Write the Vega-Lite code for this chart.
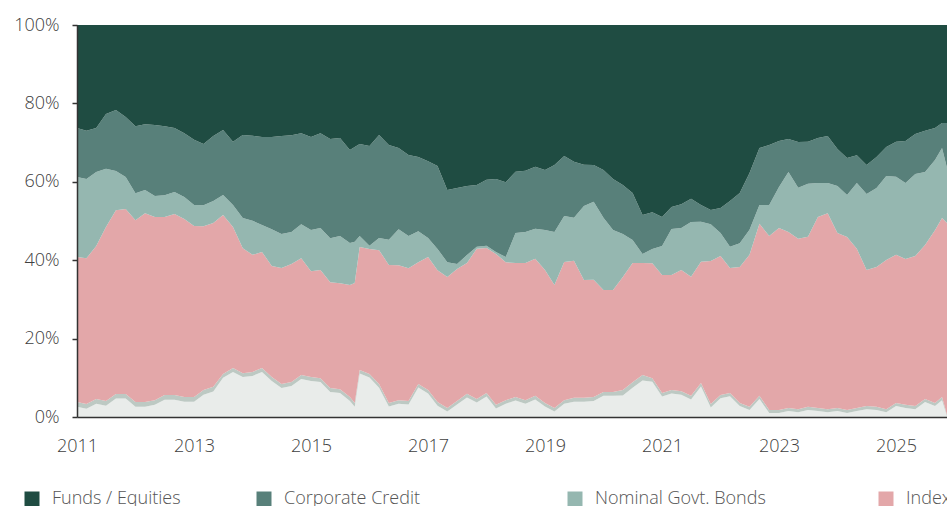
{
  "$schema": "https://vega.github.io/schema/vega-lite/v6.json",
  "width": 870,
  "height": 392,
  "autosize": {"type": "none"},
  "padding": {"left": 77, "top": 25, "right": 0, "bottom": 89},
  "background": "white",
  "config": {"view": {"stroke": null}, "font": "Open Sans"},
  "data": {"values": [
    {"date":"2011-01-01","c1":2.6,"c2":1.2,"c3":37.0,"c4":20.4,"c5":12.5,"c6":26.3},
    {"date":"2011-03-01","c1":2.1,"c2":1.2,"c3":37.2,"c4":20.2,"c5":12.3,"c6":27.0},
    {"date":"2011-05-01","c1":3.4,"c2":1.2,"c3":39.0,"c4":18.9,"c5":11.2,"c6":26.3},
    {"date":"2011-07-01","c1":2.9,"c2":1.2,"c3":44.4,"c4":14.8,"c5":14.0,"c6":22.7},
    {"date":"2011-09-01","c1":4.7,"c2":1.2,"c3":46.9,"c4":10.0,"c5":15.6,"c6":21.7},
    {"date":"2011-11-01","c1":4.7,"c2":1.2,"c3":47.2,"c4":8.2,"c5":15.3,"c6":23.5},
    {"date":"2012-01-01","c1":2.6,"c2":1.2,"c3":46.4,"c4":6.9,"c5":17.1,"c6":25.8},
    {"date":"2012-03-01","c1":2.6,"c2":1.2,"c3":48.2,"c4":5.9,"c5":16.8,"c6":25.3},
    {"date":"2012-05-01","c1":3.1,"c2":1.2,"c3":46.7,"c4":5.4,"c5":18.1,"c6":25.5},
    {"date":"2012-07-01","c1":4.4,"c2":1.2,"c3":45.4,"c4":5.6,"c5":17.6,"c6":25.8},
    {"date":"2012-09-01","c1":4.4,"c2":1.2,"c3":46.2,"c4":5.6,"c5":16.3,"c6":26.3},
    {"date":"2012-11-01","c1":3.9,"c2":1.2,"c3":45.4,"c4":5.6,"c5":16.3,"c6":27.6},
    {"date":"2013-01-01","c1":3.9,"c2":1.2,"c3":43.6,"c4":5.4,"c5":16.6,"c6":29.3},
    {"date":"2013-03-01","c1":5.7,"c2":1.2,"c3":41.8,"c4":5.4,"c5":15.6,"c6":30.4},
    {"date":"2013-05-01","c1":6.5,"c2":1.2,"c3":41.8,"c4":5.6,"c5":16.6,"c6":28.3},
    {"date":"2013-07-01","c1":10.0,"c2":1.0,"c3":40.6,"c4":5.1,"c5":16.6,"c6":26.8},
    {"date":"2013-09-01","c1":11.5,"c2":1.0,"c3":36.0,"c4":5.6,"c5":16.1,"c6":29.8},
    {"date":"2013-11-01","c1":10.2,"c2":1.0,"c3":31.9,"c4":7.7,"c5":21.2,"c6":28.1},
    {"date":"2014-01-01","c1":10.5,"c2":1.0,"c3":29.9,"c4":8.7,"c5":21.7,"c6":28.3},
    {"date":"2014-03-01","c1":11.5,"c2":1.0,"c3":29.6,"c4":6.9,"c5":22.4,"c6":28.6},
    {"date":"2014-05-01","c1":9.2,"c2":1.0,"c3":28.3,"c4":9.4,"c5":23.5,"c6":28.6},
    {"date":"2014-07-01","c1":7.4,"c2":1.0,"c3":29.6,"c4":8.7,"c5":25.0,"c6":28.3},
    {"date":"2014-09-01","c1":7.9,"c2":1.0,"c3":30.1,"c4":8.2,"c5":24.7,"c6":28.1},
    {"date":"2014-11-01","c1":9.7,"c2":1.0,"c3":29.8,"c4":8.7,"c5":23.2,"c6":27.6},
    {"date":"2015-01-01","c1":9.2,"c2":1.0,"c3":27.0,"c4":10.5,"c5":23.7,"c6":28.6},
    {"date":"2015-03-01","c1":8.9,"c2":1.0,"c3":27.6,"c4":10.7,"c5":24.2,"c6":27.6},
    {"date":"2015-05-01","c1":6.4,"c2":1.0,"c3":27.0,"c4":11.2,"c5":25.3,"c6":29.1},
    {"date":"2015-07-01","c1":6.1,"c2":1.0,"c3":27.0,"c4":12.0,"c5":25.0,"c6":28.8},
    {"date":"2015-09-01","c1":4.1,"c2":1.0,"c3":28.6,"c4":10.7,"c5":23.7,"c6":31.9},
    {"date":"2015-10-01","c1":2.6,"c2":1.0,"c3":30.6,"c4":10.5,"c5":24.2,"c6":31.1},
    {"date":"2015-11-01","c1":11.1,"c2":0.9,"c3":31.4,"c4":2.8,"c5":23.5,"c6":30.4},
    {"date":"2016-01-01","c1":10.1,"c2":0.9,"c3":31.9,"c4":0.8,"c5":25.5,"c6":30.9},
    {"date":"2016-03-01","c1":7.5,"c2":0.9,"c3":34.2,"c4":3.1,"c5":26.3,"c6":28.1},
    {"date":"2016-05-01","c1":2.7,"c2":0.9,"c3":35.2,"c4":6.4,"c5":24.2,"c6":30.6},
    {"date":"2016-07-01","c1":3.4,"c2":0.9,"c3":34.4,"c4":9.2,"c5":20.7,"c6":31.4},
    {"date":"2016-09-01","c1":3.2,"c2":0.9,"c3":33.9,"c4":8.2,"c5":20.7,"c6":33.2},
    {"date":"2016-11-01","c1":7.5,"c2":0.9,"c3":31.1,"c4":7.9,"c5":18.9,"c6":33.7},
    {"date":"2017-01-01","c1":6.0,"c2":0.9,"c3":33.9,"c4":4.8,"c5":19.6,"c6":34.7},
    {"date":"2017-03-01","c1":2.9,"c2":0.9,"c3":33.7,"c4":5.4,"c5":21.2,"c6":36.0},
    {"date":"2017-05-01","c1":1.4,"c2":0.9,"c3":33.4,"c4":3.8,"c5":18.4,"c6":42.1},
    {"date":"2017-07-01","c1":3.2,"c2":0.9,"c3":33.7,"c4":1.3,"c5":19.4,"c6":41.6},
    {"date":"2017-09-01","c1":5.0,"c2":0.9,"c3":33.4,"c4":2.0,"c5":17.6,"c6":41.1},
    {"date":"2017-11-01","c1":3.7,"c2":0.9,"c3":38.3,"c4":0.5,"c5":15.8,"c6":40.8},
    {"date":"2018-01-01","c1":5.2,"c2":0.9,"c3":37.0,"c4":0.6,"c5":16.8,"c6":39.5},
    {"date":"2018-03-01","c1":2.2,"c2":0.9,"c3":38.5,"c4":0.5,"c5":18.6,"c6":39.3},
    {"date":"2018-05-01","c1":3.4,"c2":0.9,"c3":35.2,"c4":1.3,"c5":19.1,"c6":40.1},
    {"date":"2018-07-01","c1":4.2,"c2":0.9,"c3":34.2,"c4":7.7,"c5":15.6,"c6":37.5},
    {"date":"2018-09-01","c1":3.4,"c2":0.9,"c3":35.0,"c4":7.9,"c5":15.6,"c6":37.2},
    {"date":"2018-11-01","c1":4.5,"c2":0.9,"c3":35.0,"c4":7.7,"c5":15.8,"c6":36.2},
    {"date":"2019-01-01","c1":2.7,"c2":0.9,"c3":33.9,"c4":10.2,"c5":15.3,"c6":37.0},
    {"date":"2019-03-01","c1":1.4,"c2":0.9,"c3":31.4,"c4":13.5,"c5":17.1,"c6":35.7},
    {"date":"2019-05-01","c1":3.4,"c2":0.9,"c3":35.2,"c4":11.7,"c5":15.3,"c6":33.4},
    {"date":"2019-07-01","c1":3.9,"c2":1.0,"c3":35.0,"c4":11.0,"c5":14.3,"c6":34.9},
    {"date":"2019-09-01","c1":3.9,"c2":1.0,"c3":30.1,"c4":18.9,"c5":10.5,"c6":35.7},
    {"date":"2019-11-01","c1":4.1,"c2":1.0,"c3":29.9,"c4":19.9,"c5":9.4,"c6":35.7},
    {"date":"2020-01-01","c1":5.4,"c2":1.0,"c3":26.0,"c4":18.4,"c5":12.2,"c6":37.0},
    {"date":"2020-03-01","c1":5.4,"c2":1.0,"c3":26.0,"c4":15.3,"c5":13.0,"c6":39.3},
    {"date":"2020-05-01","c1":5.5,"c2":1.4,"c3":28.8,"c4":11.0,"c5":12.5,"c6":40.8},
    {"date":"2020-07-01","c1":7.5,"c2":1.4,"c3":30.4,"c4":5.9,"c5":12.0,"c6":42.9},
    {"date":"2020-09-01","c1":9.3,"c2":1.4,"c3":28.6,"c4":2.3,"c5":10.0,"c6":48.5},
    {"date":"2020-11-01","c1":9.0,"c2":0.9,"c3":29.3,"c4":3.6,"c5":9.4,"c6":47.7},
    {"date":"2021-01-01","c1":5.2,"c2":0.9,"c3":30.1,"c4":7.4,"c5":7.4,"c6":49.0},
    {"date":"2021-03-01","c1":6.0,"c2":0.9,"c3":29.3,"c4":11.7,"c5":5.6,"c6":46.4},
    {"date":"2021-05-01","c1":5.7,"c2":0.9,"c3":30.9,"c4":10.7,"c5":6.1,"c6":45.7},
    {"date":"2021-07-01","c1":4.5,"c2":0.9,"c3":30.4,"c4":14.0,"c5":5.9,"c6":44.4},
    {"date":"2021-09-01","c1":7.8,"c2":0.9,"c3":30.9,"c4":10.2,"c5":4.3,"c6":45.9},
    {"date":"2021-11-01","c1":2.4,"c2":0.9,"c3":36.5,"c4":9.4,"c5":3.6,"c6":47.2},
    {"date":"2022-01-01","c1":4.8,"c2":0.8,"c3":35.5,"c4":5.9,"c5":6.4,"c6":46.7},
    {"date":"2022-03-01","c1":5.3,"c2":0.8,"c3":31.9,"c4":5.4,"c5":11.7,"c6":44.9},
    {"date":"2022-05-01","c1":2.8,"c2":0.8,"c3":34.7,"c4":6.1,"c5":12.8,"c6":42.9},
    {"date":"2022-07-01","c1":1.8,"c2":0.8,"c3":38.8,"c4":6.4,"c5":14.5,"c6":37.8},
    {"date":"2022-09-01","c1":4.6,"c2":0.8,"c3":43.9,"c4":4.8,"c5":14.5,"c6":31.4},
    {"date":"2022-11-01","c1":1.0,"c2":0.8,"c3":44.4,"c4":7.9,"c5":15.3,"c6":30.6},
    {"date":"2023-01-01","c1":1.0,"c2":0.8,"c3":46.4,"c4":10.5,"c5":11.7,"c6":29.6},
    {"date":"2023-03-01","c1":1.5,"c2":0.8,"c3":44.9,"c4":15.3,"c5":8.4,"c6":29.1},
    {"date":"2023-05-01","c1":1.2,"c2":0.8,"c3":43.4,"c4":13.0,"c5":11.7,"c6":29.8},
    {"date":"2023-07-01","c1":1.8,"c2":0.8,"c3":43.4,"c4":13.5,"c5":10.7,"c6":29.8},
    {"date":"2023-09-01","c1":1.5,"c2":0.8,"c3":48.7,"c4":8.7,"c5":11.5,"c6":28.8},
    {"date":"2023-11-01","c1":1.2,"c2":0.8,"c3":50.0,"c4":7.7,"c5":12.0,"c6":28.3},
    {"date":"2024-01-01","c1":1.5,"c2":0.8,"c3":44.6,"c4":12.0,"c5":9.4,"c6":31.6},
    {"date":"2024-03-01","c1":1.0,"c2":0.8,"c3":44.1,"c4":10.7,"c5":9.4,"c6":33.9},
    {"date":"2024-05-01","c1":1.5,"c2":0.8,"c3":40.6,"c4":16.8,"c5":7.1,"c6":33.2},
    {"date":"2024-07-01","c1":2.0,"c2":0.8,"c3":34.7,"c4":19.4,"c5":7.4,"c6":35.7},
    {"date":"2024-09-01","c1":1.8,"c2":0.8,"c3":35.7,"c4":20.2,"c5":7.9,"c6":33.7},
    {"date":"2024-11-01","c1":1.2,"c2":0.8,"c3":38.0,"c4":21.4,"c5":7.4,"c6":31.1},
    {"date":"2025-01-01","c1":2.8,"c2":0.8,"c3":37.8,"c4":19.9,"c5":8.9,"c6":29.8},
    {"date":"2025-03-01","c1":2.3,"c2":0.8,"c3":37.2,"c4":19.4,"c5":10.7,"c6":29.6},
    {"date":"2025-05-01","c1":2.0,"c2":0.8,"c3":38.3,"c4":20.9,"c5":10.2,"c6":27.8},
    {"date":"2025-07-01","c1":3.8,"c2":0.8,"c3":39.3,"c4":18.6,"c5":10.5,"c6":27.0},
    {"date":"2025-09-01","c1":2.8,"c2":0.8,"c3":44.1,"c4":17.9,"c5":8.2,"c6":26.3},
    {"date":"2025-10-15","c1":4.3,"c2":0.8,"c3":45.7,"c4":17.9,"c5":6.4,"c6":25.0},
    {"date":"2025-11-15","c1":0.2,"c2":0.3,"c3":49.0,"c4":14.0,"c5":11.5,"c6":25.0}
  ]},
  "transform": [{"fold": ["c1", "c2", "c3", "c4", "c5", "c6"], "as": ["series", "value"]}],
  "mark": {"type": "area", "interpolate": "linear"},
  "encoding": {
    "x": {
      "field": "date",
      "type": "temporal",
      "scale": {"type": "utc", "domain": [1293840000000, 1763164800000]},
      "axis": {
        "values": [1293840000000, 1356998400000, 1420070400000, 1483228800000, 1546300800000, 1609459200000, 1672531200000, 1735689600000],
        "format": "%Y",
        "formatType": "utc",
        "title": null,
        "grid": false,
        "ticks": false,
        "domainColor": "#333333",
        "domainWidth": 1.5,
        "labelPadding": 20,
        "labelFlush": false,
        "labelOverlap": false,
        "labelFont": "Open Sans",
        "labelFontWeight": 300,
        "labelFontSize": 18,
        "labelColor": "#404040",
        "zindex": 1
      }
    },
    "y": {
      "field": "value",
      "type": "quantitative",
      "stack": "normalize",
      "axis": {
        "values": [0, 0.2, 0.4, 0.6, 0.8, 1],
        "format": ".0%",
        "title": null,
        "grid": false,
        "domainColor": "#333333",
        "domainWidth": 1.5,
        "tickColor": "#333333",
        "tickWidth": 1.5,
        "tickSize": 5,
        "labelPadding": 13,
        "labelFlush": false,
        "labelOverlap": false,
        "labelFont": "Open Sans",
        "labelFontWeight": 300,
        "labelFontSize": 18,
        "labelColor": "#404040",
        "zindex": 1
      }
    },
    "color": {
      "field": "series",
      "type": "nominal",
      "scale": {
        "domain": ["c6", "c5", "c4", "c3", "c2", "c1", "c7"],
        "range": ["#1f4c42", "#58807a", "#95b7b0", "#e3a7a9", "#bdc9c3", "#e9ecea", "#cccccc"]
      },
      "legend": {
        "orient": "none",
        "legendX": -54,
        "legendY": 465,
        "direction": "horizontal",
        "columns": 4,
        "title": null,
        "padding": 0,
        "symbolType": "square",
        "symbolSize": 225,
        "symbolStrokeWidth": 0,
        "labelFont": "Open Sans",
        "labelFontWeight": 300,
        "labelFontSize": 18,
        "labelColor": "#555555",
        "labelOffset": 11,
        "labelLimit": 400,
        "columnPadding": 74,
        "rowPadding": 10,
        "gridAlign": "each",
        "labelExpr": "datum.label == 'c6' ? 'Funds / Equities' : datum.label == 'c5' ? 'Corporate Credit' : datum.label == 'c4' ? 'Nominal Govt. Bonds' : datum.label == 'c3' ? 'Index-Linked Govt. Bonds' : datum.label == 'c2' ? 'Other' : datum.label == 'c1' ? 'Cash plus Money Markets' : 'Derivatives / Other Assets'"
      }
    },
    "order": {"field": "series", "sort": "ascending"}
  }
}
